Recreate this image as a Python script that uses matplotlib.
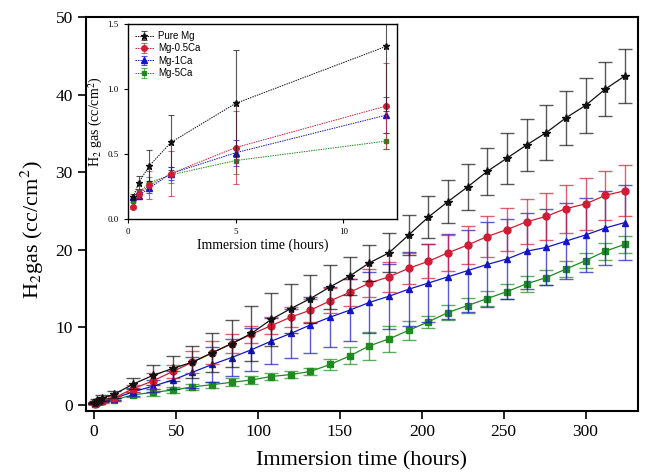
import matplotlib
matplotlib.use("Agg")
import matplotlib.pyplot as plt
import numpy as np

plt.rcParams['font.family'] = ['Liberation Serif', 'DejaVu Serif']
plt.rcParams['mathtext.fontset'] = 'stix'

# ---- data ----
t_early = [0.25, 0.5, 1, 2, 5, 12]
t_late = [24, 36, 48, 60, 72, 84, 96, 108, 120, 132, 144, 156, 168, 180, 192,
          204, 216, 228, 240, 252, 264, 276, 288, 300, 312, 324]

labels = ["Pure Mg", "Mg-0.5Ca", "Mg-1Ca", "Mg-5Ca"]

pure_early = [0.17, 0.28, 0.41, 0.59, 0.89, 1.33]
ca05_early = [0.09, 0.19, 0.26, 0.35, 0.55, 0.87]
ca1_early = [0.17, 0.18, 0.24, 0.35, 0.51, 0.80]
ca5_early = [0.14, 0.20, 0.28, 0.34, 0.45, 0.60]

pure_early_err = [0.02, 0.05, 0.12, 0.21, 0.41, 0.50]
ca05_early_err = [0.01, 0.03, 0.11, 0.17, 0.28, 0.33]
ca1_early_err = [0.01, 0.02, 0.04, 0.05, 0.10, 0.14]
ca5_early_err = [0.01, 0.02, 0.04, 0.06, 0.10, 0.06]

pure_late = [2.7, 3.8, 4.7, 5.5, 6.7, 7.9, 9.2, 11.0, 12.4, 13.7, 15.2, 16.6, 18.3,
             19.6, 21.9, 24.2, 26.2, 28.1, 30.1, 31.8, 33.5, 35.1, 37.0, 38.6, 40.7, 42.4]
ca05_late = [2.1, 3.1, 4.3, 5.5, 6.7, 7.9, 9.1, 10.2, 11.3, 12.2, 13.4, 14.5, 15.7,
             16.5, 17.6, 18.5, 19.6, 20.6, 21.7, 22.6, 23.6, 24.3, 25.3, 25.9, 27.0, 27.6]
ca1_late = [1.7, 2.4, 3.2, 4.2, 5.2, 6.1, 7.1, 8.2, 9.2, 10.3, 11.3, 12.2, 13.2,
            14.0, 14.9, 15.7, 16.5, 17.3, 18.1, 18.8, 19.8, 20.3, 21.1, 21.9, 22.8, 23.5]
ca5_late = [1.3, 1.6, 1.9, 2.3, 2.6, 2.9, 3.2, 3.65, 3.9, 4.3, 5.2, 6.3, 7.6,
            8.5, 9.6, 10.7, 11.9, 12.8, 13.7, 14.6, 15.6, 16.4, 17.5, 18.6, 19.8, 20.7]

pure_late_err = [0.7, 1.3, 1.6, 2.1, 2.5, 3.0, 3.5, 3.4, 3.2, 3.1, 2.8, 2.5, 2.3,
                 2.5, 2.6, 2.7, 2.8, 3.0, 3.0, 3.3, 3.3, 3.5, 3.5, 3.5, 3.5, 3.5]
ca05_late_err = [0.5, 1.0, 0.8, 1.4, 1.5, 1.2, 1.1, 1.1, 1.3, 1.5, 1.6, 1.7, 1.8,
                 1.9, 2.0, 2.2, 2.3, 2.5, 2.6, 2.8, 2.9, 3.0, 3.1, 3.3, 3.2, 3.3]
ca1_late_err = [0.5, 0.8, 1.2, 2.0, 2.3, 2.4, 2.8, 3.0, 3.2, 3.6, 3.9, 4.0, 3.9,
                4.2, 4.8, 5.0, 5.5, 5.3, 5.5, 5.2, 4.9, 4.9, 4.9, 4.8, 4.8, 4.8]
ca5_late_err = [0.3, 0.4, 0.4, 0.4, 0.4, 0.5, 0.5, 0.5, 0.5, 0.5, 0.7, 1.1, 1.8,
                1.7, 1.2, 0.8, 1.0, 1.0, 1.0, 1.0, 1.0, 1.0, 1.0, 1.0, 1.1, 1.1]

colors = ["#111111", "#d01c34", "#1414c8", "#1f8a1f"]
markers = ["*", "o", "^", "s"]
msizes = [6, 5, 5, 4.5]

early = [pure_early, ca05_early, ca1_early, ca5_early]
early_err = [pure_early_err, ca05_early_err, ca1_early_err, ca5_early_err]
late = [pure_late, ca05_late, ca1_late, ca5_late]
late_err = [pure_late_err, ca05_late_err, ca1_late_err, ca5_late_err]

fig = plt.figure(figsize=(6.46, 4.75), dpi=100)
ax = fig.add_axes([0.1331, 0.1347, 0.8545, 0.8295])

for i in range(4):
    t = t_early + t_late
    y = early[i] + late[i]
    e = early_err[i] + late_err[i]
    ax.errorbar(t, y, yerr=e, color=colors[i], marker=markers[i], ms=msizes[i],
                lw=0.9, elinewidth=1.0, capsize=5, capthick=1.0,
                ecolor=matplotlib.colors.to_rgba(colors[i], 0.7), zorder=3 + (3 - i))

ax.set_xlim(-5, 332)
ax.set_ylim(-0.8, 50)
ax.set_xticks([0, 50, 100, 150, 200, 250, 300])
ax.set_yticks([0, 10, 20, 30, 40, 50])
ax.tick_params(direction='out', length=6, width=1.2, labelsize=12.5, top=False, right=False)
for s in ax.spines.values():
    s.set_linewidth(1.5)
ax.set_xlabel("Immersion time (hours)", fontsize=16, labelpad=8)
ax.set_ylabel("H$_2$gas (cc/cm$^2$)", fontsize=16)
ax.yaxis.set_label_coords(-0.072, 0.46)

# ---- inset ----
axi = fig.add_axes([0.198, 0.539, 0.4166, 0.410])
handles = []
for i in range(4):
    h = axi.errorbar(t_early, early[i], yerr=early_err[i], color=colors[i],
                     marker=markers[i], ms=msizes[i] - 1, lw=0.7, ls=(0, (1.5, 1)),
                     elinewidth=0.8, capsize=2.5, capthick=0.8,
                     ecolor=matplotlib.colors.to_rgba(colors[i], 0.7),
                     label=labels[i], zorder=3 + (3 - i))
    handles.append(h)
axi.set_xlim(0, 12.5)
axi.set_ylim(0, 1.5)
axi.set_xticks([0, 5, 10])
axi.set_yticks([0.0, 0.5, 1.0, 1.5])
axi.set_yticklabels(["0.0", "0.5", "1.0", "1.5"])
axi.tick_params(direction='out', length=3, width=0.8, labelsize=6.5, top=False, right=False)
for s in axi.spines.values():
    s.set_linewidth(1.0)
axi.set_xlabel("Immersion time (hours)", fontsize=10, labelpad=2)
axi.set_ylabel("H$_2$ gas (cc/cm$^2$)", fontsize=10, labelpad=2)
leg = axi.legend(handles=handles, labels=labels, loc='upper left', frameon=False,
                 prop={'family': 'Liberation Sans', 'size': 7}, handlelength=2.0,
                 borderaxespad=0.3, labelspacing=0.25, handletextpad=0.4)

fig.savefig("out.png", dpi=100)
